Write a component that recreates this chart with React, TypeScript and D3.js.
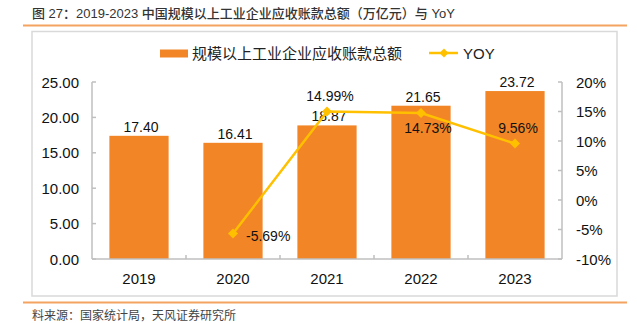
import React from "react";
import * as d3 from "d3";

const categories = ["2019", "2020", "2021", "2022", "2023"];
const receivables = [17.4, 16.41, 18.87, 21.65, 23.72];
const yoy: (number | null)[] = [null, -5.69, 14.99, 14.73, 9.56];
const leftTicks = [0, 5, 10, 15, 20, 25];
const rightTicks = [-10, -5, 0, 5, 10, 15, 20];
const yoyLabelPos = ["", "right", "above", "below", "above"];

const BAR = "#F28526";
const LINE = "#FFC000";
const AXIS = "#BFBFBF";
const FONT = "Arial, 'Liberation Sans', 'Noto Sans CJK SC', sans-serif";

export default function App() {
  const W = 637, H = 323;
  const left = 92, right = 562, top = 82, bottom = 259;
  const x = d3.scaleBand<string>().domain(categories).range([left, right]).paddingInner(0.37).paddingOuter(0.185);
  const xc = d3.scaleBand<string>().domain(categories).range([left, right]);
  const yL = d3.scaleLinear().domain([0, 25]).range([bottom, top]);
  const yR = d3.scaleLinear().domain([-10, 20]).range([bottom, top]);
  const pts = categories.map((c, i) => ({ c, v: yoy[i], pos: yoyLabelPos[i] })).filter(d => d.v !== null) as { c: string; v: number; pos: string }[];
  const line = d3.line<{ c: string; v: number }>().x(d => xc(d.c)! + xc.bandwidth() / 2).y(d => yR(d.v));
  const diamond = (cx: number, cy: number, r: number) => `M${cx},${cy - r}L${cx + r},${cy}L${cx},${cy + r}L${cx - r},${cy}Z`;

  return (
    <svg width={W} height={H} style={{ position: "absolute", left: 0, top: 0, fontFamily: FONT }}>
      <rect x={0} y={0} width={W} height={H} fill="#fff" />
      <text x={32} y={18} fontSize={13} fill="#333" fontWeight={500}>图 27：2019-2023 中国规模以上工业企业应收账款总额（万亿元）与 YoY</text>
      <line x1={23} x2={627} y1={25.5} y2={25.5} stroke="#F4A460" strokeWidth={2} />
      <rect x={32} y={31.5} width={585} height={264.5} fill="none" stroke="#D9D9D9" strokeWidth={1.5} />
      <line x1={23} x2={627} y1={302.5} y2={302.5} stroke="#F4A460" strokeWidth={2} />
      <text x={32} y={320} fontSize={12} fill="#444">料来源：国家统计局，天风证券研究所</text>

      {/* legend */}
      <rect x={160} y={49.5} width={28} height={8} fill={BAR} />
      <text x={192} y={58.5} fontSize={15} fill="#222">规模以上工业企业应收账款总额</text>
      <line x1={429} x2={458} y1={53} y2={53} stroke={LINE} strokeWidth={2.5} />
      <path d={diamond(444, 53, 4.5)} fill={LINE} />
      <text x={463} y={58.5} fontSize={15} fill="#222">YOY</text>

      {/* bars */}
      {categories.map((c, i) => (
        <g key={c}>
          <rect x={x(c)} y={yL(receivables[i])} width={x.bandwidth()} height={bottom - yL(receivables[i])} fill={BAR} />
          <text x={x(c)! + x.bandwidth() / 2 + 2} y={yL(receivables[i]) - 4} fontSize={14} textAnchor="middle" fill="#111">{receivables[i].toFixed(2)}</text>
        </g>
      ))}

      {/* axes */}
      <line x1={left} x2={left} y1={top} y2={bottom} stroke={AXIS} strokeWidth={1.5} />
      <line x1={right} x2={right} y1={top} y2={bottom} stroke={AXIS} strokeWidth={1.5} />
      <line x1={left} x2={right} y1={bottom} y2={bottom} stroke={AXIS} strokeWidth={1.5} />
      {leftTicks.map(t => (
        <g key={"l" + t}>
          <line x1={left} x2={left + 4} y1={yL(t)} y2={yL(t)} stroke={AXIS} strokeWidth={1.5} />
          <text x={79} y={yL(t) + 5.5} fontSize={15} textAnchor="end" fill="#111">{t.toFixed(2)}</text>
        </g>
      ))}
      {rightTicks.map(t => (
        <g key={"r" + t}>
          <line x1={right - 4} x2={right} y1={yR(t)} y2={yR(t)} stroke={AXIS} strokeWidth={1.5} />
          <text x={576} y={yR(t) + 5.5} fontSize={15} textAnchor="start" fill="#111">{t}%</text>
        </g>
      ))}
      {categories.slice(1).map(c => (
        <line key={"t" + c} x1={xc(c)} x2={xc(c)} y1={bottom} y2={bottom - 4} stroke={AXIS} strokeWidth={1.5} />
      ))}
      {categories.map(c => (
        <text key={"c" + c} x={xc(c)! + xc.bandwidth() / 2} y={284} fontSize={15} textAnchor="middle" fill="#111">{c}</text>
      ))}

      {/* yoy line */}
      <path d={line(pts)!} fill="none" stroke={LINE} strokeWidth={2.5} />
      {pts.map(d => {
        const cx = xc(d.c)! + xc.bandwidth() / 2;
        const cy = yR(d.v);
        let lx = cx, ly = cy, anchor = "middle";
        if (d.pos === "right") { lx = cx + 13; ly = cy + 7; anchor = "start"; }
        else if (d.pos === "above") { lx = cx + 3; ly = cy - 11; }
        else { lx = cx + 7; ly = cy + 20; }
        return (
          <g key={"p" + d.c}>
            <path d={diamond(cx, cy, 5)} fill={LINE} />
            <text x={lx} y={ly} fontSize={14} textAnchor={anchor} fill="#111">{d.v.toFixed(2)}%</text>
          </g>
        );
      })}
    </svg>
  );
}
